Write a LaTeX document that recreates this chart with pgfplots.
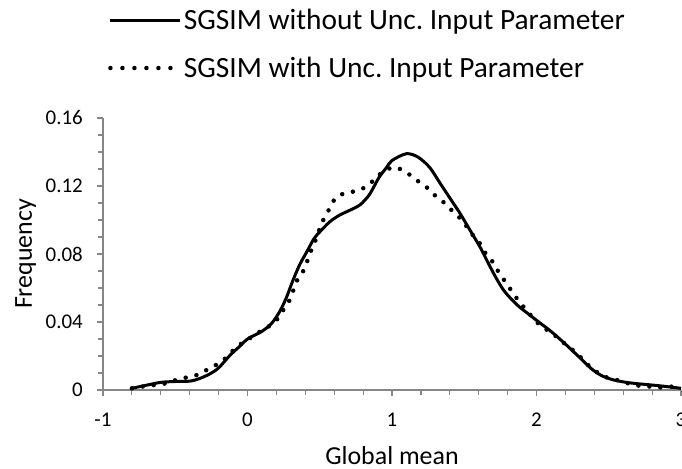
\documentclass[border=0pt]{standalone}
\usepackage{pgfplots}
\pgfplotsset{compat=1.18}
\usepackage{fontspec}
\setmainfont{Carlito}
\definecolor{axgray}{HTML}{868686}
\begin{document}
\begin{tikzpicture}
\begin{axis}[
 name=ax,
 scale only axis, width=578bp, height=272bp,
 xmin=-1, xmax=3, ymin=0, ymax=0.16,
 axis lines*=left,
 axis line style={axgray, line width=1.5bp},
 xtick={-1,0,1,2,3}, ytick={0,0.04,0.08,0.12,0.16},
 minor x tick num=4, minor y tick num=3,
 tick align=outside,
 major tick length=6bp, minor tick length=5bp,
 every tick/.style={axgray, line width=1.2bp},
 scaled y ticks=false,
 yticklabel style={/pgf/number format/fixed, /pgf/number format/precision=2,
   inner sep=0pt, anchor=east, xshift=-14bp},
 xticklabel style={inner sep=0pt, anchor=north, yshift=-17bp},
 /pgf/number format/assume math mode=true,
 ticklabel style={font=\fontsize{21}{25}\selectfont, text=black},
 xlabel={Global mean}, ylabel={Frequency},
 label style={font=\fontsize{26}{31}\selectfont},
 xlabel style={at={(axis description cs:0.5,0)}, anchor=base, yshift=-74bp},
 ylabel style={at={([xshift=-71bp]axis description cs:0,0.5)}, anchor=base},
 legend cell align=left,
 legend style={at={(0,1)}, anchor=north west, xshift=2bp, yshift=113bp,
   draw=none, fill=none, font=\fontsize{29.5}{34}\selectfont, row sep=22bp},
]
\addplot[black, line width=3bp, smooth,
  legend image code/.code={\draw[black, line width=3bp] (0bp,0bp) -- (70bp,0bp);}]
 coordinates {
(-0.80,0.001) (-0.70,0.0028) (-0.60,0.0045) (-0.50,0.005) (-0.40,0.0052)
(-0.33,0.0068) (-0.26,0.0095) (-0.20,0.013) (-0.12,0.0205) (-0.05,0.026) (0.00,0.030)
(0.10,0.0345) (0.17,0.0395) (0.225,0.0465) (0.27,0.0545) (0.31,0.0635) (0.36,0.0735) (0.415,0.082)
(0.46,0.089) (0.50,0.093) (0.57,0.099) (0.64,0.103) (0.71,0.1058) (0.78,0.109)
(0.844,0.115) (0.91,0.125) (0.96,0.1306) (1.00,0.135) (1.10,0.139) (1.18,0.137)
(1.26,0.131) (1.33,0.122) (1.40,0.113) (1.47,0.104) (1.54,0.094) (1.61,0.084)
(1.67,0.074) (1.72,0.066) (1.77,0.059) (1.82,0.054) (1.88,0.049) (1.94,0.045)
(2.00,0.041) (2.10,0.0345) (2.20,0.027) (2.30,0.019) (2.38,0.0125) (2.45,0.0085)
(2.53,0.006) (2.62,0.0045) (2.70,0.0037) (2.85,0.0025) (3.00,0.001)
};
\addlegendentry{SGSIM without Unc.\ Input Parameter}
\addplot[black, line width=4.5bp, line cap=round, dash pattern=on 0bp off 11bp, smooth,
  legend image code/.code={\draw[black, line width=4.5bp, line cap=round, dash pattern=on 0bp off 12bp] (0bp,0bp) -- (61bp,0bp);}]
 coordinates {
(-0.80,0.001) (-0.73,0.002) (-0.64,0.003) (-0.56,0.004) (-0.49,0.006)
(-0.41,0.0076) (-0.33,0.0094) (-0.26,0.013) (-0.19,0.016) (-0.13,0.0206)
(-0.08,0.025) (-0.01,0.029) (0.06,0.033) (0.12,0.036) (0.19,0.040)
(0.23,0.045) (0.28,0.051) (0.31,0.057) (0.34,0.064) (0.38,0.069)
(0.41,0.075) (0.44,0.082) (0.47,0.088) (0.50,0.095) (0.53,0.101)
(0.57,0.107) (0.61,0.113) (0.68,0.116) (0.75,0.117) (0.83,0.120)
(0.89,0.125) (0.95,0.129) (1.02,0.131) (1.10,0.128) (1.16,0.124)
(1.23,0.120) (1.29,0.115) (1.35,0.111) (1.41,0.106) (1.46,0.102)
(1.51,0.097) (1.56,0.091) (1.61,0.086) (1.65,0.080) (1.70,0.075)
(1.74,0.069) (1.79,0.063) (1.83,0.058) (1.88,0.052) (1.93,0.047)
(1.98,0.042) (2.04,0.037) (2.10,0.034) (2.17,0.029) (2.23,0.025)
(2.29,0.0206) (2.34,0.016) (2.41,0.011) (2.48,0.0076) (2.55,0.006)
(2.63,0.004) (2.71,0.0025) (2.79,0.002) (2.86,0.0015) (2.94,0.002)
(3.00,0.001)
};
\addlegendentry{SGSIM with Unc.\ Input Parameter}
\end{axis}
\pgfresetboundingbox
\path ([shift={(-103bp,-79bp)}]ax.south west) rectangle ([shift={(1bp,118bp)}]ax.north east);
\end{tikzpicture}
\end{document}
